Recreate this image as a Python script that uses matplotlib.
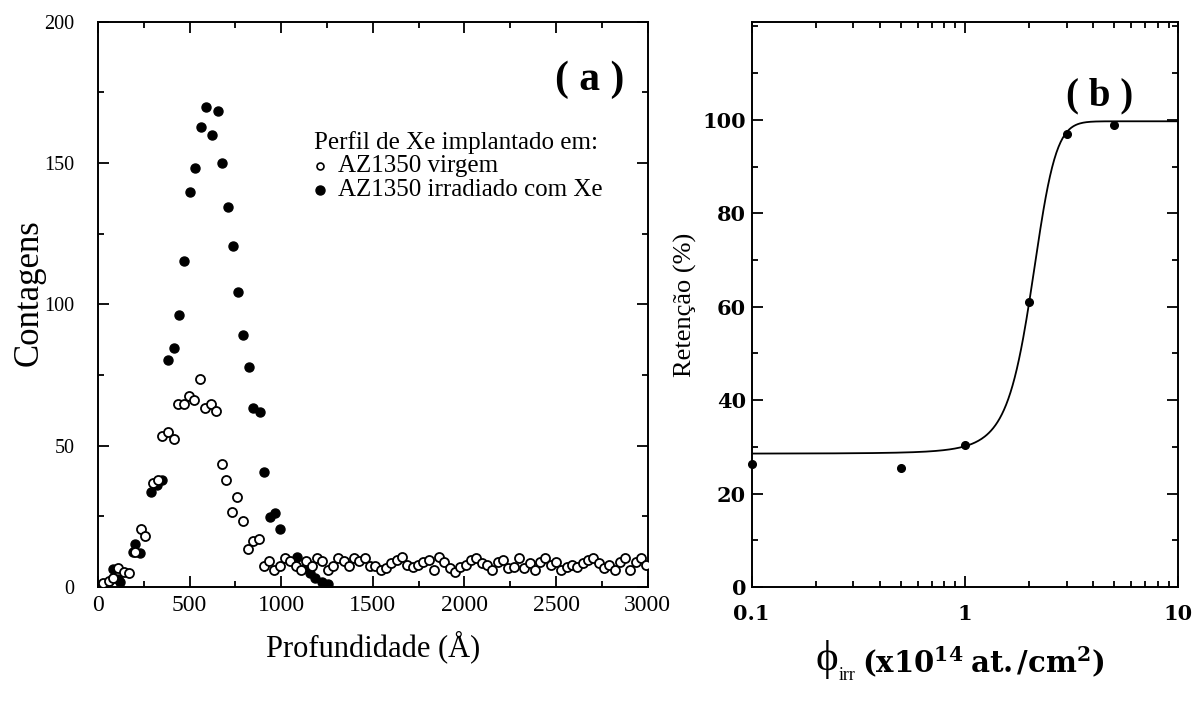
import numpy as np
import matplotlib.pyplot as plt
from matplotlib.ticker import MultipleLocator, LogLocator, FixedLocator, NullFormatter

plt.rcParams['font.family'] = ['Liberation Serif', 'DejaVu Serif']
plt.rcParams['mathtext.fontset'] = 'custom'
plt.rcParams['mathtext.rm'] = 'Liberation Serif'
plt.rcParams['mathtext.it'] = 'Liberation Serif:italic'
plt.rcParams['mathtext.bf'] = 'DejaVu Serif:bold'

# (a) perfil de Xe - amostra virgem
depth_virgem = [29, 58, 84, 111, 140, 171, 202, 236, 258, 298, 327, 349, 384, 413,
                438, 471, 495, 525, 556, 584, 616, 645, 676, 700, 731, 758, 789, 818,
                847, 880,
                905, 934, 963, 992, 1021, 1050, 1079, 1108, 1137, 1166, 1195, 1224,
                1253, 1282, 1311, 1340, 1369, 1398, 1427, 1456, 1485, 1514, 1543, 1572,
                1601, 1630, 1659, 1688, 1717, 1746, 1775, 1804, 1833, 1862, 1891, 1920,
                1949, 1978, 2007, 2036, 2065, 2094, 2123, 2152, 2181, 2210, 2239, 2268,
                2297, 2326, 2355, 2384, 2413, 2442, 2471, 2500, 2529, 2558, 2587, 2616,
                2645, 2674, 2703, 2732, 2761, 2790, 2819, 2848, 2877, 2906, 2935, 2964,
                2993]
counts_virgem = [1.3, 2.2, 3.3, 6.6, 5.2, 4.8, 12.3, 20.4, 18.0, 36.7, 37.9, 53.6, 54.8, 52.3,
                 64.8, 64.8, 67.7, 66.3, 73.5, 63.5, 64.9, 62.2, 43.7, 37.9, 26.5, 32.0, 23.5, 13.3,
                 16.4, 17.1,
                 7.5, 9.2, 6.0, 7.5, 10.4, 9.2, 7.5, 6.0, 9.2, 7.5, 10.4, 9.2,
                 6.0, 7.5, 10.4, 9.2, 7.5, 10.4, 9.2, 10.4, 7.5, 7.5, 6.0,
                 6.6, 8.4, 9.6, 10.7, 7.8, 7.2, 7.8, 9.0, 9.6, 6.0, 10.7, 9.0,
                 6.6, 5.4, 7.2, 7.8, 9.6, 10.1, 8.4, 7.8, 6.0, 9.0, 9.6, 6.6, 7.2,
                 10.1, 6.6, 8.4, 6.0, 9.0, 10.1, 7.8, 9.0, 6.0, 7.2, 7.8, 7.2,
                 8.4, 9.6, 10.1, 8.4, 6.6, 7.8, 6.0, 9.0, 10.1, 6.0, 9.0, 10.1, 7.8]

# (a) perfil de Xe - amostra irradiada
depth_irrad = [84, 111, 120, 193, 202, 229, 291, 320, 349, 384, 413, 440, 469, 500,
               529, 562, 587, 622, 653, 678, 707, 735, 764, 791, 822, 847, 882, 907,
               938, 967, 996, 1084, 1129, 1156, 1184, 1220, 1256]
counts_irrad = [6.5, 3.0, 1.9, 12.3, 15.1, 11.9, 33.7, 36.0, 37.8, 80.4, 84.7, 96.4, 115.3, 139.8,
                148.3, 162.6, 169.7, 159.8, 168.3, 150.0, 134.4, 120.5, 104.5, 89.1, 77.8, 63.2, 62.0, 40.6,
                24.9, 26.3, 20.4, 10.5, 6.6, 4.8, 3.1, 1.9, 1.0]

legenda_titulo = 'Perfil de Xe implantado em:'
legenda_rotulos = ['AZ1350 virgem', 'AZ1350 irradiado com Xe']

# (b) retencao em funcao da fluencia de irradiacao
fluencia = [0.1, 0.5, 1.0, 2.0, 3.0, 5.0]
retencao = [26.4, 25.4, 30.3, 61.1, 96.9, 98.8]

# ajuste de Boltzmann
A1, A2, x0, dx = 28.5, 99.7, 2.05, 0.28


def boltzmann(x):
    return A2 + (A1 - A2) / (1 + np.exp((x - x0) / dx))


fig = plt.figure(figsize=(11.95, 7.03), dpi=100)
ax1 = fig.add_axes([0.082, 0.165, 0.460, 0.804])
ax2 = fig.add_axes([0.629, 0.165, 0.357, 0.804])

for ax in (ax1, ax2):
    for s in ax.spines.values():
        s.set_linewidth(1.4)
    ax.tick_params(which='both', direction='in', top=True, right=True, width=1.3)
    ax.tick_params(which='major', length=8)
    ax.tick_params(which='minor', length=4)

# painel (a)
ax1.plot(depth_virgem, counts_virgem, 'o', ms=6.5, mfc='white', mec='black', mew=1.3, zorder=3)
ax1.plot(depth_irrad, counts_irrad, 'o', ms=6.5, mfc='black', mec='black', zorder=2)
ax1.set_xlim(0, 3000)
ax1.set_ylim(0, 200)
ax1.xaxis.set_major_locator(MultipleLocator(500))
ax1.xaxis.set_minor_locator(MultipleLocator(250))
ax1.yaxis.set_major_locator(MultipleLocator(50))
ax1.yaxis.set_minor_locator(MultipleLocator(25))
ax1.tick_params(axis='x', labelsize=17, pad=6)
ax1.tick_params(axis='y', labelsize=14.5, pad=17)
ax1.set_xlabel('Profundidade (Å)', fontsize=22, labelpad=10)
ax1.set_ylabel('Contagens', fontsize=25)
ax1.yaxis.set_label_coords(-0.095, 0.52)
ax1.text(0.895, 0.897, '( a )', transform=ax1.transAxes, fontsize=30,
         fontweight='bold', ha='center', va='center')

# legenda montada a mao
ax1.text(0.393, 0.786, legenda_titulo, transform=ax1.transAxes, fontsize=18,
         ha='left', va='center')
ax1.plot([0.404], [0.744], 'o', ms=5, mfc='white', mec='black', mew=1.2,
         transform=ax1.transAxes, clip_on=False)
ax1.plot([0.404], [0.703], 'o', ms=6.5, mfc='black', mec='black',
         transform=ax1.transAxes, clip_on=False)
ax1.text(0.436, 0.744, legenda_rotulos[0], transform=ax1.transAxes, fontsize=18,
         ha='left', va='center')
ax1.text(0.436, 0.703, legenda_rotulos[1], transform=ax1.transAxes, fontsize=18,
         ha='left', va='center')

# painel (b)
xfit = np.logspace(-1, 1, 400)
ax2.plot(xfit, boltzmann(xfit), '-', color='black', lw=1.3)
ax2.plot(fluencia, retencao, 'o', ms=5.5, color='black', clip_on=False, zorder=3)
ax2.set_xscale('log')
ax2.set_xlim(0.1, 10)
ax2.set_ylim(0, 121)
ax2.xaxis.set_major_locator(FixedLocator([0.1, 1, 10]))
ax2.xaxis.set_minor_locator(LogLocator(base=10, subs=np.arange(2, 10)))
ax2.xaxis.set_minor_formatter(NullFormatter())
ax2.set_xticklabels(['0.1', '1', '10'])
ax2.yaxis.set_major_locator(FixedLocator([0, 20, 40, 60, 80, 100]))
ax2.yaxis.set_minor_locator(MultipleLocator(10))
for lab in ax2.get_xticklabels() + ax2.get_yticklabels():
    lab.set_family('DejaVu Serif')
    lab.set_fontweight('bold')
    lab.set_fontsize(15)
ax2.tick_params(axis='x', pad=12)
ax2.tick_params(axis='y', pad=4)
ax2.set_ylabel('Retenção (%)', fontsize=19, labelpad=4)

# rotulo do eixo x: phi_irr (x10^14 at./cm^2)
ax2.text(0.176, -0.129, 'ϕ', transform=ax2.transAxes, fontsize=31,
         ha='center', va='center')
ax2.text(0.203, -0.157, 'irr', transform=ax2.transAxes, fontsize=13,
         ha='left', va='center')
ax2.text(0.258, -0.131, r'$\mathbf{(x10^{14}\ at./cm^{2})}$', transform=ax2.transAxes,
         fontsize=21, ha='left', va='center')

ax2.text(0.815, 0.869, '( b )', transform=ax2.transAxes, fontsize=28,
         fontweight='bold', ha='center', va='center')

fig.savefig('out.png', dpi=100)
